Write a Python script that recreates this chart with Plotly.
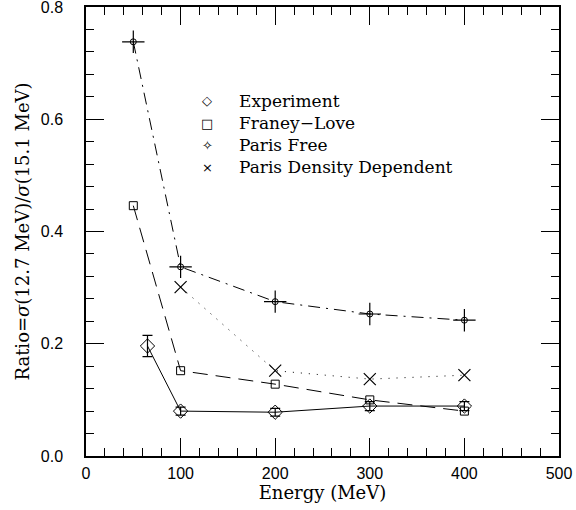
import plotly.graph_objects as go

# Data
exp_x = [65, 100, 200, 300, 400]
exp_y = [0.196, 0.080, 0.078, 0.089, 0.089]
exp_err = [0.019, 0.007, 0.007, 0.008, 0.008]

fl_x = [50, 100, 200, 300, 400]
fl_y = [0.446, 0.152, 0.128, 0.100, 0.080]

pf_x = [50, 100, 200, 300, 400]
pf_y = [0.738, 0.337, 0.275, 0.253, 0.242]

pdd_x = [100, 200, 300, 400]
pdd_y = [0.301, 0.152, 0.137, 0.144]

legend_names = ["Experiment", "Franey\u2212Love", "Paris Free", "Paris Density Dependent"]

SERIF = "DejaVu Serif"
SANS = "Liberation Sans"
BLACK = "black"

fig = go.Figure()

fig.add_trace(go.Scatter(x=exp_x, y=exp_y, mode="lines+markers", name=legend_names[0], showlegend=False,
                         line=dict(color=BLACK, width=1),
                         marker=dict(symbol="diamond-open", size=11, color=BLACK, line=dict(width=1)),
                         error_y=dict(type="data", array=exp_err, visible=True, color=BLACK,
                                      thickness=1.2, width=5)))
fig.add_trace(go.Scatter(x=fl_x, y=fl_y, mode="lines+markers", name=legend_names[1], showlegend=False,
                         line=dict(color=BLACK, width=1, dash="15px,8px"),
                         marker=dict(symbol="square-open", size=8, color=BLACK, line=dict(width=1))))
fig.add_trace(go.Scatter(x=pf_x, y=pf_y, mode="lines+markers", name=legend_names[2], showlegend=False,
                         line=dict(color=BLACK, width=1, dash="12px,6px,2px,6px"),
                         marker=dict(symbol="circle-open", size=6, color=BLACK, line=dict(width=1))))
fig.add_trace(go.Scatter(x=pf_x, y=pf_y, mode="markers", showlegend=False, hoverinfo="skip",
                         marker=dict(symbol="cross-thin-open", size=16, color=BLACK, line=dict(width=1.2))))
fig.add_trace(go.Scatter(x=pdd_x, y=pdd_y, mode="lines+markers", name=legend_names[3], showlegend=False,
                         line=dict(color=BLACK, width=1, dash="1px,7px"),
                         marker=dict(symbol="x-thin-open", size=12, color=BLACK, line=dict(width=1.2))))

# Key: label column as one text block, with a small glyph beside each row
KEY_SIZE = 17
KEY_CENTER_Y = 0.717
fig.add_annotation(x=0.319, y=KEY_CENTER_Y, xref="paper", yref="paper",
                   text="<br>".join(legend_names), showarrow=False,
                   xanchor="left", yanchor="middle", align="left",
                   font=dict(family=SERIF, size=KEY_SIZE, color=BLACK))
legend_glyphs = ["\u25C7", "\u25A1", "\u2727", "\u00D7"]
row_step = KEY_SIZE * 1.3 / 449.0  # one text line, in plot-height fraction
n = len(legend_glyphs)
for i, glyph in enumerate(legend_glyphs):
    yy = KEY_CENTER_Y + ((n - 1) / 2.0 - i) * row_step
    fig.add_annotation(x=0.256, y=yy, xref="paper", yref="paper", text=glyph, showarrow=False,
                       xanchor="center", yanchor="middle",
                       font=dict(family="DejaVu Sans", size=13, color=BLACK))

axis_common = dict(
    showline=True, linecolor=BLACK, linewidth=1.5, mirror="allticks",
    ticks="inside", ticklen=18, tickwidth=1.2, tickcolor=BLACK,
    showgrid=False, zeroline=False, automargin=False, ticklabeloverflow="allow",
    tickfont=dict(family=SANS, size=16, color=BLACK),
)

fig.update_xaxes(range=[0, 500], tickvals=[0, 100, 200, 300, 400, 500],
                 ticklabelstandoff=2,
                 minor=dict(dtick=20, ticks="inside", ticklen=8, tickwidth=1.2, tickcolor=BLACK),
                 title=dict(text="Energy (MeV)", font=dict(family=SERIF, size=18, color=BLACK), standoff=2),
                 **axis_common)
fig.update_yaxes(range=[0, 0.8], tickvals=[0, 0.2, 0.4, 0.6, 0.8], tickformat=".1f",
                 ticklabelstandoff=18,
                 minor=dict(dtick=0.04, ticks="inside", ticklen=8, tickwidth=1.2, tickcolor=BLACK),
                 title=dict(text="Ratio=<i>σ</i>(12.7 MeV)/<i>σ</i>(15.1 MeV)",
                            font=dict(family=SERIF, size=18, color=BLACK), standoff=6),
                 **axis_common)

fig.update_layout(
    width=576, height=510,
    margin=dict(l=86, r=17, t=7, b=54),
    paper_bgcolor="white", plot_bgcolor="white",
    showlegend=False,
)

fig.write_html("out.html")
